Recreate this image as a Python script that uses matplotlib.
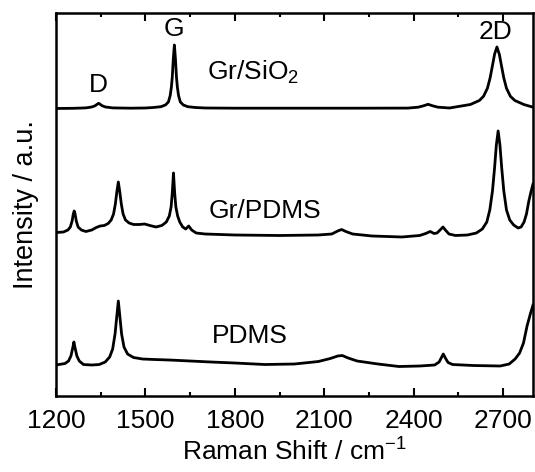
import matplotlib
matplotlib.use('Agg')
from matplotlib import pyplot as plt
from matplotlib.ticker import MultipleLocator

# Raman spectra, stacked (arbitrary intensity units)
wn_sio2 = [1200, 1260, 1300, 1320, 1331, 1337, 1343, 1349, 1355, 1366, 1390, 1450,
           1500, 1527, 1552, 1567, 1577, 1583, 1587, 1590, 1593.5, 1597, 1600.5, 1604,
           1607, 1611, 1617, 1627, 1642, 1667, 1700, 1800, 2000, 2200, 2380, 2415,
           2433, 2448, 2463, 2481, 2520, 2550, 2590, 2620, 2634, 2647, 2656, 2664,
           2671, 2679, 2687, 2694, 2702, 2711, 2724, 2739, 2769, 2800]
int_sio2 = [287.5, 287.7, 288.1, 289.0, 290.2, 291.5, 292.7, 291.5, 290.2, 289.0, 288.1, 287.8,
            288, 288.5, 289.3, 291, 294, 300.5, 309, 319, 337.5, 351, 337.5, 319,
            309, 300.5, 294, 291, 289.3, 288.5, 288, 287.8, 287.8, 287.8, 287.9, 288.8,
            290.2, 291.7, 290.2, 288.8, 288, 289.5, 291.5, 295.5, 299.7, 307.7, 318, 330.5,
            341.7, 349, 341.7, 330.5, 318, 307.7, 299.7, 295.5, 291.5, 288.8]

wn_grpdms = [1200, 1225, 1240, 1248, 1254, 1258, 1261, 1264, 1268, 1274, 1285, 1300,
             1320, 1335, 1348, 1362, 1375, 1385, 1393, 1399, 1404, 1409, 1414, 1419,
             1425, 1433, 1445, 1460, 1480, 1497, 1515, 1535, 1555, 1570, 1580, 1586,
             1590, 1594, 1598, 1602, 1608, 1615, 1625, 1635, 1645, 1655, 1670, 1700,
             1800, 1950, 2080, 2125, 2145, 2158, 2172, 2195, 2260, 2360, 2420, 2440,
             2455, 2468, 2478, 2490, 2498, 2506, 2518, 2540, 2580, 2610, 2630, 2645,
             2655, 2664, 2671, 2677, 2683, 2689, 2695, 2702, 2711, 2722, 2735, 2750,
             2760, 2770, 2778, 2786, 2793, 2800]
int_grpdms = [163.5, 164, 166, 169, 175, 182, 185, 182, 175, 169, 166, 164.5,
              166, 168.5, 170, 170.5, 172.5, 176, 182, 192, 204, 214, 204, 192,
              182, 176, 173, 171.5, 171.5, 172, 170.5, 169, 170.5, 174, 180, 189,
              203, 223, 203, 189, 180, 174, 169, 167, 170, 166, 163, 162,
              161, 160.5, 161, 162, 165, 166.5, 164.5, 162, 160, 159, 160.5, 162.5,
              164.5, 162.5, 163, 166.5, 169, 166, 162, 160.5, 161, 163, 167, 174,
              186, 205, 228, 251, 265, 251, 228, 205, 186, 176, 171, 168,
              169, 174, 182, 195, 204, 212]

wn_pdms = [1200, 1230, 1242, 1250, 1256, 1260, 1264, 1270, 1278, 1292, 1320, 1345,
           1365, 1380, 1390, 1398, 1404, 1409, 1414, 1420, 1428, 1440, 1460, 1490,
           1530, 1580, 1650, 1720, 1800, 1900, 2000, 2080, 2120, 2145, 2160, 2180,
           2210, 2280, 2350, 2420, 2470, 2485, 2492, 2499, 2506, 2515, 2530, 2600,
           2690, 2720, 2740, 2755, 2768, 2780, 2790, 2800]
int_pdms = [31, 32.5, 35, 40, 48, 54, 48, 40, 35, 31.5, 31, 31.5,
            34, 39, 47, 62, 80, 95, 80, 62, 49, 42, 38.5, 37,
            36.5, 36, 35, 34, 33, 31.5, 32, 34.5, 37.5, 40, 40.5, 38,
            35, 32, 29.5, 30, 31, 34, 38, 42, 38, 33.5, 31.5, 30.5,
            30, 32, 37, 43, 53, 70, 81, 91]

# text annotations: (text, x, y)
sample_labels = [('Gr/SiO$_2$', 1862, 324),
                 ('Gr/PDMS', 1900, 185),
                 ('PDMS', 1850, 60)]
peak_labels = [('D', 1341, 311), ('G', 1597, 367), ('2D', 2674, 364)]

plt.rcParams['font.family'] = ['Liberation Sans', 'DejaVu Sans']
plt.rcParams['mathtext.fontset'] = 'custom'
plt.rcParams['mathtext.rm'] = 'Liberation Sans'
plt.rcParams['mathtext.it'] = 'Liberation Sans:italic'

fig = plt.figure(figsize=(5.35, 4.72), dpi=100)
ax = fig.add_axes([0.1047, 0.161, 0.8916, 0.8115])

for wn, inten in [(wn_sio2, int_sio2), (wn_grpdms, int_grpdms), (wn_pdms, int_pdms)]:
    ax.plot(wn, inten, color='black', linewidth=2.0, solid_joinstyle='round')

for txt, x, y in sample_labels:
    ax.text(x, y, txt, fontsize=19, ha='center', va='center')
for txt, x, y in peak_labels:
    ax.text(x, y, txt, fontsize=19, ha='center', va='center')

ax.set_xlim(1200, 2800)
ax.set_ylim(0, 383)
ax.xaxis.set_major_locator(MultipleLocator(300))
ax.xaxis.set_minor_locator(MultipleLocator(150))
ax.tick_params(axis='x', which='both', direction='in', top=True, labelsize=19,
               width=1.5, pad=9)
ax.tick_params(axis='x', which='major', length=6)
ax.tick_params(axis='x', which='minor', length=3)
ax.set_yticks([])
for s in ax.spines.values():
    s.set_linewidth(1.8)

ax.set_xlabel('Raman Shift / cm$^{-1}$', fontsize=19, labelpad=4)
ax.set_ylabel('Intensity / a.u.', fontsize=19.5, labelpad=12)

fig.savefig('out.png', dpi=100)
